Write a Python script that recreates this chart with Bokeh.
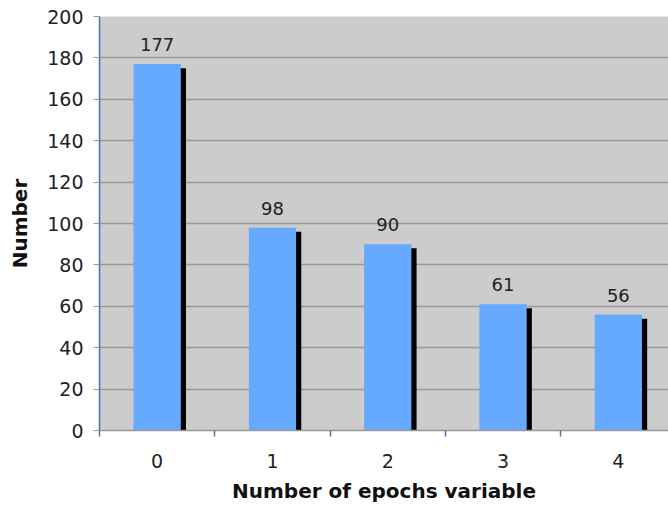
from bokeh.plotting import figure
from bokeh.models import ColumnDataSource, Range1d, FixedTicker, LabelSet
from bokeh.core.properties import value
from bokeh.embed import file_html
from bokeh.resources import INLINE

categories = ["0", "1", "2", "3", "4"]
values = [177, 98, 90, 61, 56]
y_ticks = [0, 20, 40, 60, 80, 100, 120, 140, 160, 180, 200]

xs = list(range(len(categories)))
src = ColumnDataSource(dict(
    x=xs,
    top=values,
    label=[str(v) for v in values],
    sx=[x + 0.045 for x in xs],
    stop=[v - 2 for v in values],
))

p = figure(width=668, height=508, output_backend="svg", toolbar_location=None,
           x_range=Range1d(-0.5, 4.435), y_range=Range1d(0, 200),
           min_border_left=99, min_border_top=16, min_border_bottom=78, min_border_right=0)
p.background_fill_color = "#cccccc"
p.outline_line_color = None

# shadow bars then main bars
p.vbar(x="sx", top="stop", bottom=0, width=0.41, source=src, fill_color="black", line_color=None)
p.vbar(x="x", top="top", bottom=0, width=0.41, source=src, fill_color="#66aaff", line_color=None)

labels = LabelSet(x="x", y="top", text="label", source=src, text_align="center",
                  text_baseline="bottom", y_offset=13, text_font_size="18px",
                  text_font=value("DejaVu Sans"), text_color="#222222")
p.add_layout(labels)

# grid
p.xgrid.grid_line_color = None
p.ygrid.ticker = FixedTicker(ticks=y_ticks)
p.ygrid.grid_line_color = "#999999"
p.ygrid.grid_line_width = 1.5

# y axis
p.yaxis.ticker = FixedTicker(ticks=y_ticks)
p.yaxis.axis_line_color = "#4a70b8"
p.yaxis.axis_line_width = 1.5
p.yaxis.major_tick_line_color = "#999999"
p.yaxis.major_tick_out = 6
p.yaxis.major_tick_in = 0
p.yaxis.minor_tick_line_color = None
p.yaxis.major_label_text_font = "DejaVu Sans"
p.yaxis.major_label_text_font_size = "19px"
p.yaxis.major_label_text_color = "#222222"
p.yaxis.major_label_standoff = 10
p.yaxis.axis_label = "Number"
p.yaxis.axis_label_text_font = "DejaVu Sans"
p.yaxis.axis_label_text_font_size = "20px"
p.yaxis.axis_label_text_font_style = "bold"
p.yaxis.axis_label_text_color = "#111111"
p.yaxis.axis_label_standoff = 12

# x axis
p.xaxis.ticker = FixedTicker(ticks=xs, minor_ticks=[x - 0.5 for x in xs] + [len(xs) - 0.5])
p.xaxis.major_label_overrides = {i: c for i, c in enumerate(categories)}
p.xaxis.axis_line_color = "#999999"
p.xaxis.axis_line_width = 1.5
p.xaxis.major_tick_line_color = None
p.xaxis.major_tick_out = 0
p.xaxis.major_tick_in = 0
p.xaxis.minor_tick_line_color = "#4a70b8"
p.xaxis.minor_tick_line_width = 1.5
p.xaxis.minor_tick_out = 6
p.xaxis.minor_tick_in = 0
p.xaxis.major_label_text_font = "DejaVu Sans"
p.xaxis.major_label_text_font_size = "19px"
p.xaxis.major_label_text_color = "#222222"
p.xaxis.major_label_standoff = 17
p.xaxis.axis_label = "Number of epochs variable"
p.xaxis.axis_label_text_font = "DejaVu Sans"
p.xaxis.axis_label_text_font_size = "20px"
p.xaxis.axis_label_text_font_style = "bold"
p.xaxis.axis_label_text_color = "#111111"
p.xaxis.axis_label_standoff = 8

open("out.html", "w").write(file_html(p, INLINE))
